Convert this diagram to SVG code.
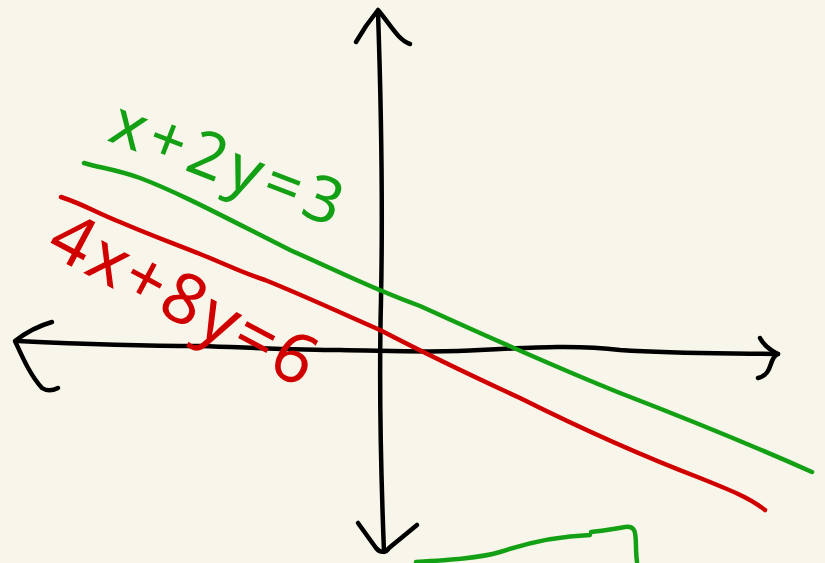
<svg xmlns="http://www.w3.org/2000/svg" width="825" height="563" viewBox="0 0 825 563">
<style>
.s{fill:none;stroke-width:4.5;stroke-linecap:round;stroke-linejoin:round}
.k{stroke:#000}
.g{stroke:#14a014}
.r{stroke:#d00000}
.t{font-family:"Noto Sans","DejaVu Sans",sans-serif}
</style>
<rect width="825" height="563" fill="#f8f6ea"/>
<g id="axes">
<path class="s k" d="M378,12 C381,100 383,200 381,300 C379,380 380,450 384,552"/>
<path class="s k" d="M356,42 L366,26 L378,10 C390,24 398,40 410,44"/>
<path class="s k" d="M358,523 L376,548 C380,553 386,553 389,548 L417,525"/>
<path class="s k" d="M18,341 C80,344 140,346 200,346 C260,348 300,350 340,350 C400,351 440,353 480,350 C540,347 580,345 620,350 C680,354 720,353 778,354"/>
<path class="s k" d="M52,322 C38,326 24,334 15,341 C22,356 30,375 42,388 C48,392 54,390 58,388"/>
<path class="s k" d="M760,338 C764,346 770,350 778,354 C768,358 774,374 758,378"/>
</g>
<g id="lines">
<path class="s g" d="M84,163 C100,168 115,169 140,178 C180,193 230,220 290,250 C340,272 370,288 420,306 C500,342 550,365 620,393 C690,420 740,440 812,472"/>
<path class="s r" d="M61,197 C85,205 95,212 120,222 C150,235 170,242 200,254 C230,266 240,272 265,280 C300,294 330,308 380,330 C430,356 470,375 520,398 C580,428 640,455 700,478 C730,490 750,498 765,510"/>
<path class="s g" d="M416,562 C450,560 480,558 500,552 C530,542 560,536 590,535 M591,532 C600,531 610,530 625,527 C640,525 634,540 637,562"/>
</g>
<g id="labels">
<text class="t" x="0" y="0" font-size="64" fill="#14a014" letter-spacing="6" transform="translate(106,140) rotate(21)">x+2y=3</text>
<text class="t" x="0" y="0" font-size="70" fill="#d00000" letter-spacing="3" transform="translate(44,252) rotate(28)">4x+8y=6</text>
</g>
</svg>
